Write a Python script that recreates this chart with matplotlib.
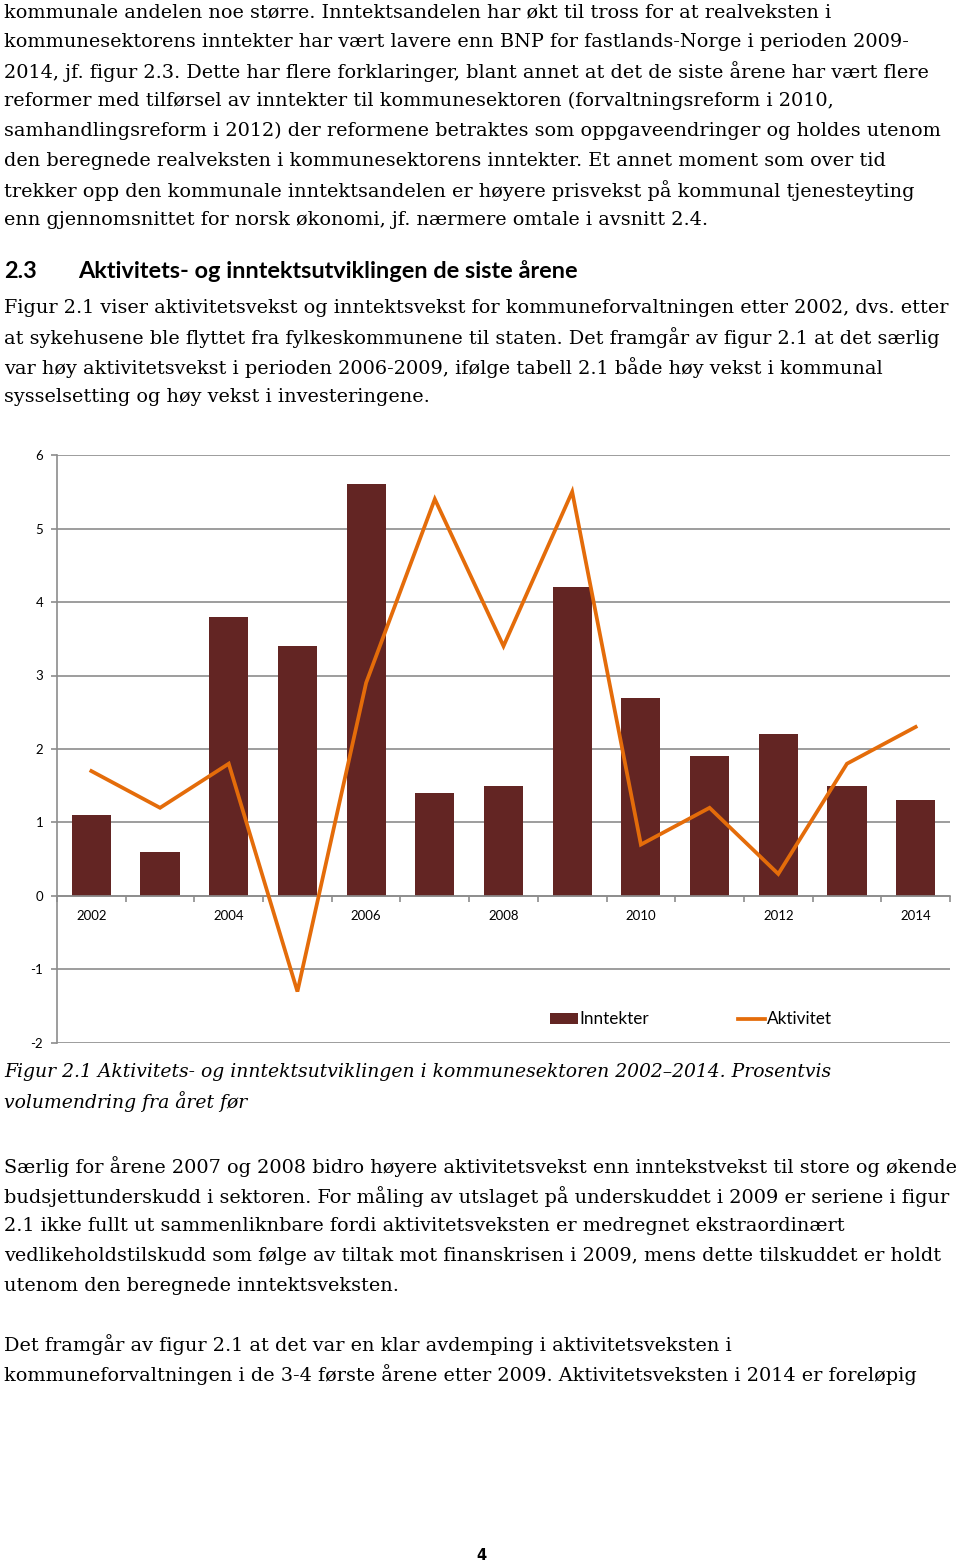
import matplotlib
matplotlib.use("Agg")
import matplotlib.pyplot as plt
from matplotlib.patches import Patch
from matplotlib.lines import Line2D
import numpy as np

# ---------------- data ----------------
years = [2002, 2003, 2004, 2005, 2006, 2007, 2008, 2009, 2010, 2011, 2012, 2013, 2014]
inntekter = [1.1, 0.6, 3.8, 3.4, 5.6, 1.4, 1.5, 4.2, 2.7, 1.9, 2.2, 1.5, 1.3]
aktivitet = [1.7, 1.2, 1.8, -1.3, 2.9, 5.4, 3.4, 5.5, 0.7, 1.2, 0.3, 1.8, 2.3]
y_ticks = [-2, -1, 0, 1, 2, 3, 4, 5, 6]
year_labels = ["2002", "2004", "2006", "2008", "2010", "2012", "2014"]
series_names = ["Inntekter", "Aktivitet"]

para1 = [
    "kommunale andelen noe større. Inntektsandelen har økt til tross for at realveksten i",
    "kommunesektorens inntekter har vært lavere enn BNP for fastlands-Norge i perioden 2009-",
    "2014, jf. figur 2.3. Dette har flere forklaringer, blant annet at det de siste årene har vært flere",
    "reformer med tilførsel av inntekter til kommunesektoren (forvaltningsreform i 2010,",
    "samhandlingsreform i 2012) der reformene betraktes som oppgaveendringer og holdes utenom",
    "den beregnede realveksten i kommunesektorens inntekter. Et annet moment som over tid",
    "trekker opp den kommunale inntektsandelen er høyere prisvekst på kommunal tjenesteyting",
    "enn gjennomsnittet for norsk økonomi, jf. nærmere omtale i avsnitt 2.4.",
]
heading_num = "2.3"
heading_text = "Aktivitets- og inntektsutviklingen de siste årene"
para2 = [
    "Figur 2.1 viser aktivitetsvekst og inntektsvekst for kommuneforvaltningen etter 2002, dvs. etter",
    "at sykehusene ble flyttet fra fylkeskommunene til staten. Det framgår av figur 2.1 at det særlig",
    "var høy aktivitetsvekst i perioden 2006-2009, ifølge tabell 2.1 både høy vekst i kommunal",
    "sysselsetting og høy vekst i investeringene.",
]
caption = [
    "Figur 2.1 Aktivitets- og inntektsutviklingen i kommunesektoren 2002–2014. Prosentvis",
    "volumendring fra året før",
]
para3 = [
    "Særlig for årene 2007 og 2008 bidro høyere aktivitetsvekst enn inntekstvekst til store og økende",
    "budsjettunderskudd i sektoren. For måling av utslaget på underskuddet i 2009 er seriene i figur",
    "2.1 ikke fullt ut sammenliknbare fordi aktivitetsveksten er medregnet ekstraordinært",
    "vedlikeholdstilskudd som følge av tiltak mot finanskrisen i 2009, mens dette tilskuddet er holdt",
    "utenom den beregnede inntektsveksten.",
]
para4 = [
    "Det framgår av figur 2.1 at det var en klar avdemping i aktivitetsveksten i",
    "kommuneforvaltningen i de 3-4 første årene etter 2009. Aktivitetsveksten i 2014 er foreløpig",
]
page_no = "4"

BAR = "#632523"
LINE = "#E46C0A"
GRID = "#8C8C8C"

W, H = 960, 1564
fig = plt.figure(figsize=(W / 100, H / 100), dpi=100)

# background text layer in pixel coordinates
bg = fig.add_axes([0, 0, 1, 1])
bg.set_xlim(0, W)
bg.set_ylim(H, 0)
bg.axis("off")

body_font = dict(family="DejaVu Serif", fontsize=13.85, color="black")
lh = 29.7

def block(lines, y0, **kw):
    for i, s in enumerate(lines):
        bg.text(4, y0 + i * lh, s, va="center", ha="left", **kw)

block(para1, 12, **body_font)
bg.text(4, 271, heading_num, va="center", ha="left", family="Lato",
        fontweight="bold", fontsize=16.9, color="black")
bg.text(78, 271, heading_text, va="center", ha="left", family="Lato",
        fontweight="bold", fontsize=16.9, color="black")
block(para2, 308, **body_font)
block(caption, 1072, family="DejaVu Serif", style="italic", fontsize=13.5,
      color="black")
block(para3, 1167, **body_font)
block(para4, 1345, **body_font)
bg.text(481, 1555, page_no, va="center", ha="center", family="DejaVu Sans",
        fontweight="bold", fontsize=10.5, color="black")

# ---------------- chart ----------------
left, right = 57 / W, 950 / W
top, bottom = 1 - 455 / H, 1 - 1043 / H
ax = fig.add_axes([left, bottom, right - left, top - bottom])
ax.set_facecolor("none")
x = np.arange(len(years))
ax.bar(x, inntekter, width=0.57, color=BAR, zorder=2)
ax.plot(x, aktivitet, color=LINE, lw=2.7, zorder=3, solid_joinstyle="miter")
ax.set_xlim(-0.5, len(years) - 0.5)
ax.set_ylim(-2, 6)
ax.set_yticks(y_ticks)
ax.set_yticklabels([str(v) for v in y_ticks], family="Lato", fontsize=9.5)
for v in y_ticks:
    ax.axhline(v, color=GRID, lw=1.2, zorder=1)
for s in ["top", "right"]:
    ax.spines[s].set_visible(False)
ax.spines["left"].set_color(GRID)
ax.spines["left"].set_linewidth(1.2)
ax.spines["bottom"].set_position(("data", 0))
ax.spines["bottom"].set_color(GRID)
ax.spines["bottom"].set_linewidth(1.2)
ax.set_xticks(np.arange(-0.5, len(years)), minor=False)
ax.set_xticklabels([])
ax.tick_params(axis="x", which="major", direction="out", length=4, color=GRID, width=1.2)
lab_pos = [i for i, yv in enumerate(years) if str(yv) in year_labels]
ax.set_xticks(lab_pos, minor=True)
ax.set_xticklabels(year_labels, minor=True, family="Lato", fontsize=9.5)
ax.tick_params(axis="x", which="minor", length=0, pad=10)
ax.tick_params(axis="y", direction="out", length=4, color=GRID, width=1.2, pad=6)

handles = [Patch(facecolor=BAR, edgecolor="none"),
           Line2D([0], [0], color=LINE, lw=2.7)]
leg = ax.legend(handles, series_names, loc="center", bbox_to_anchor=(0.71, 0.04),
                ncol=2, frameon=False, handlelength=1.6, handletextpad=0.1,
                columnspacing=5.2, prop=dict(family="Lato", size=12.3))

fig.savefig("out.png", dpi=100)
